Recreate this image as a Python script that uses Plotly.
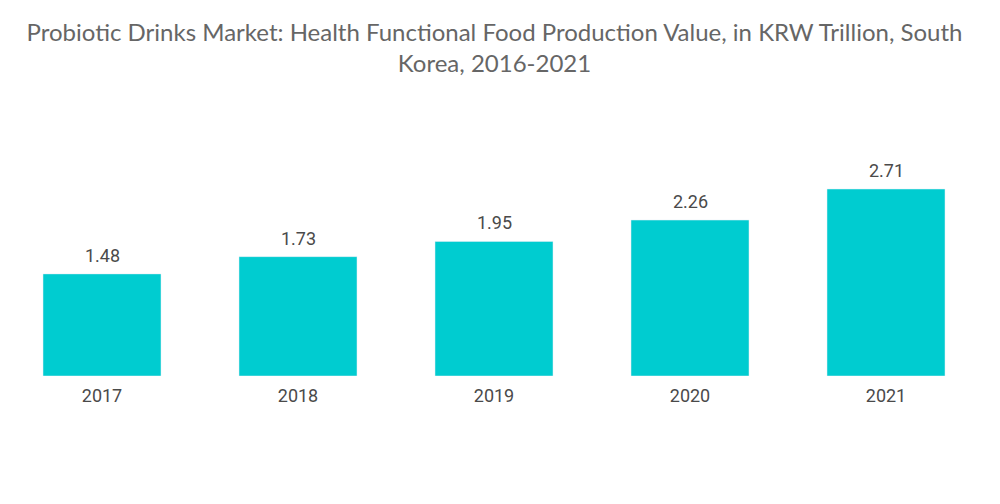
import plotly.graph_objects as go

years = ["2017", "2018", "2019", "2020", "2021"]
values = [1.48, 1.73, 1.95, 2.26, 2.71]
value_labels = ["1.48", "1.73", "1.95", "2.26", "2.71"]

fig = go.Figure()
fig.add_trace(go.Bar(
    x=years, y=values,
    marker=dict(color="#00CCD0"),
    hoverinfo="x+y",
))

# value labels above bars (category axis -> use index positions)
for i, (v, lab) in enumerate(zip(values, value_labels)):
    fig.add_annotation(x=i, y=v, text=lab, showarrow=False,
                       yanchor="bottom", yshift=6,
                       font=dict(family="Roboto", size=18, color="#4a4a4a"))

fig.update_layout(
    width=1000, height=504,
    paper_bgcolor="white", plot_bgcolor="white",
    margin=dict(l=0, r=24, t=112, b=136),
    bargap=0.398,
    showlegend=False,
    title=dict(
        text="Probiotic Drinks Market: Health Functional Food Production Value, in KRW Trillion, South<br>Korea, 2016-2021",
        x=0.4865, xanchor="center", y=0.935, yanchor="top",
        font=dict(family="Lato", size=24, color="#666666"),
    ),
)
fig.update_xaxes(type="category", showline=False, showgrid=False, ticks="",
                 range=[-0.4796, 4.5], ticklabelstandoff=7,
                 tickfont=dict(family="Roboto", size=18, color="#4a4a4a"))
fig.update_yaxes(visible=False, range=[0, 3.71])

fig.write_html("out.html")
